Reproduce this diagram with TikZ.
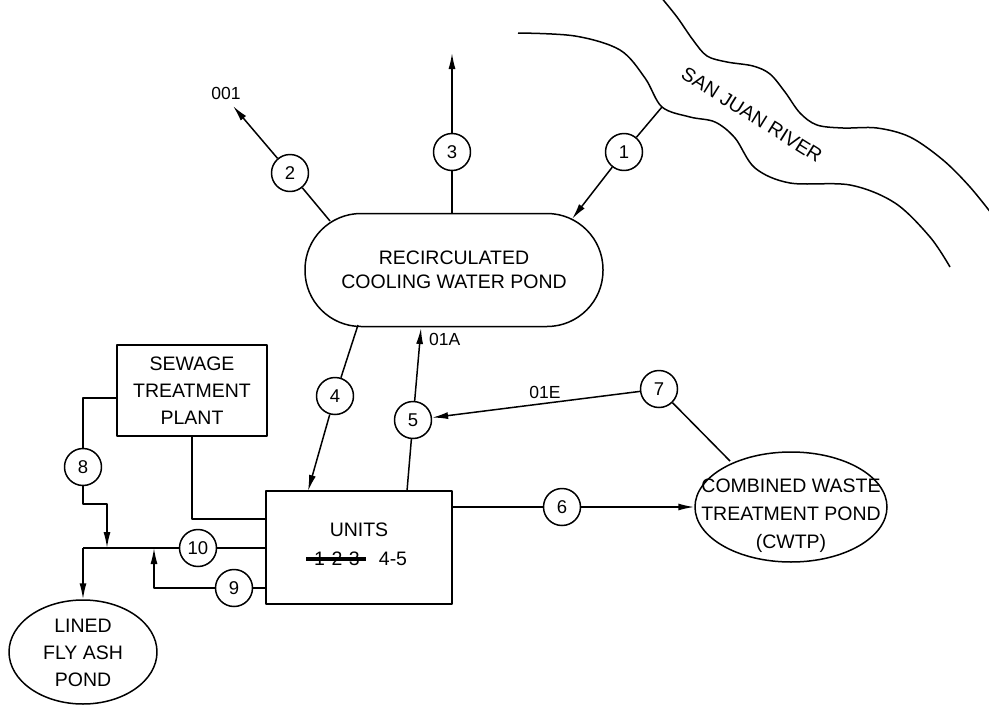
\documentclass[tikz,border=0pt]{standalone}
\usepackage{fontspec}
\setmainfont{Liberation Sans}
\usetikzlibrary{arrows.meta,shapes.geometric}
\begin{document}
\begin{tikzpicture}[x=1pt,y=-1pt,
  line join=round,
  ln/.style={line width=1.5pt},
  arr/.style={line width=1.5pt,-{Latex[length=16pt,width=7pt]}},
  num/.style={draw,circle,line width=1.5pt,minimum size=37pt,inner sep=0pt,font=\fontsize{18.5}{18.5}\selectfont},
  box/.style={draw,line width=1.5pt,inner sep=0pt},
  oval/.style={draw,ellipse,line width=1.5pt,inner sep=0pt},
  lbl/.style={inner sep=0pt,font=\fontsize{17.5}{17.5}\selectfont},
  txt/.style={inner sep=0pt,align=center,font=\fontsize{19.5}{24}\selectfont}
]
\useasboundingbox[fill=white] (0,0) rectangle (989,707);

% river banks
\draw[ln] plot[smooth,tension=0.55] coordinates {(518,33) (575,36) (620,50) (645,78) (662,107) (690,117) (715,122) (735,138) (755,168) (790,183) (850,185) (895,203) (930,237) (950,267)};
\draw[ln] plot[smooth,tension=0.55] coordinates {(660,-4) (677,17) (693,40) (707,56) (727,62) (753,66) (770,74) (785,92) (800,113) (817,125) (843,128) (877,128) (910,137) (943,160) (970,187) (995,218)};
\node[rotate=-32,inner sep=0pt,font=\fontsize{19.5}{19.5}\selectfont] (river) at (752,115) {SAN JUAN RIVER};

% main shapes
\node[box,rounded corners=56pt,minimum width=298pt,minimum height=113pt,txt] (pond) at (454,270) {RECIRCULATED\\COOLING WATER POND};
\node[box,minimum width=150pt,minimum height=91pt,txt,font=\fontsize{19.5}{27}\selectfont] (stp) at (192,390.5) {SEWAGE\\TREATMENT\\PLANT};
\node[box,minimum width=186pt,minimum height=113pt] (units) at (359,547.5) {};
\node[txt] (unitst) at (359,530) {UNITS};
\node[txt] (u123) at (337,559) {1-2-3};
\node[txt] (u45) at (393,559) {4-5};
\draw[line width=3.5pt,shorten <=-8pt,shorten >=-6pt] (u123.west) -- (u123.east);
\node[oval,minimum width=192pt,minimum height=110pt] (cwtp) at (791,507) {};
\node[txt,font=\fontsize{19.5}{28}\selectfont] (cwtpt) at (791,516) {COMBINED WASTE\\TREATMENT POND\\(CWTP)};
\node[oval,minimum width=148pt,minimum height=104pt] (fap) at (83,652) {};
\node[txt,font=\fontsize{19.5}{27}\selectfont] (fapt) at (83,653) {LINED\\FLY ASH\\POND};

% numbered circles
\node[num] (c1) at (624,152) {1};
\node[num] (c2) at (290,173) {2};
\node[num] (c3) at (452,152) {3};
\node[num] (c4) at (335,396) {4};
\node[num] (c5) at (413,420) {5};
\node[num] (c6) at (562,507) {6};
\node[num] (c7) at (659,389) {7};
\node[num] (c8) at (83,467) {8};
\node[num] (c9) at (234,588) {9};
\node[num] (c10) at (198,548) {10};

% labels
\node[lbl] (l001) at (226,93) {001};
\node[lbl,anchor=west] (l01a) at (429,339) {01A};
\node[lbl] (l01e) at (545,392) {01E};

% attachment points
\coordinate (r1) at (662,107);
\coordinate (p1) at (572,219);
\coordinate (p2) at (330,221);
\coordinate (o2) at (233,106);
\coordinate (o3) at (452,53);
\coordinate (p4) at (358,325);
\coordinate (u4) at (308,491);
\coordinate (u5) at (407,491);
\coordinate (o5) at (421,328);
\coordinate (w7) at (730,461);
\coordinate (s8) at (117,398);
\coordinate (k8) at (83,398);
\coordinate (k8b) at (83,504);
\coordinate (k8c) at (107,504);
\coordinate (j8) at (107,548);
\coordinate (j0) at (83,548);
\coordinate (k9) at (154,588);
\coordinate (j9) at (154,548);
\coordinate (k0) at (192,519);

% connectors
\draw[ln] (r1) -- (c1);
\draw[arr] (c1) -- (p1);
\draw[ln] (p2) -- (c2);
\draw[arr] (c2) -- (o2);
\draw[ln] (pond.north -| c3) -- (c3);
\draw[arr] (c3) -- (o3);
\draw[ln] (p4) -- (c4);
\draw[arr] (c4) -- (u4);
\draw[ln] (u5) -- (c5);
\draw[arr] (c5) -- (o5);
\draw[arr] (c7) -- (c5);
\draw[ln] (c7) -- (w7);
\draw[ln] (units.east |- c6) -- (c6);
\draw[arr] (c6) -- (cwtp.west);
\draw[ln] (s8) -- (k8) -- (c8);
\draw[arr] (c8) -- (k8b) -- (k8c) -- (j8);
\draw[ln] (units.west |- c10) -- (c10);
\draw[ln] (c10) -- (j0);
\draw[arr] (j0) -- (fap.north);
\draw[ln] (units.west |- c9) -- (c9);
\draw[arr] (c9) -- (k9) -- (j9);
\draw[ln] (stp.south) -- (k0) -- (units.west |- k0);
\end{tikzpicture}
\end{document}
